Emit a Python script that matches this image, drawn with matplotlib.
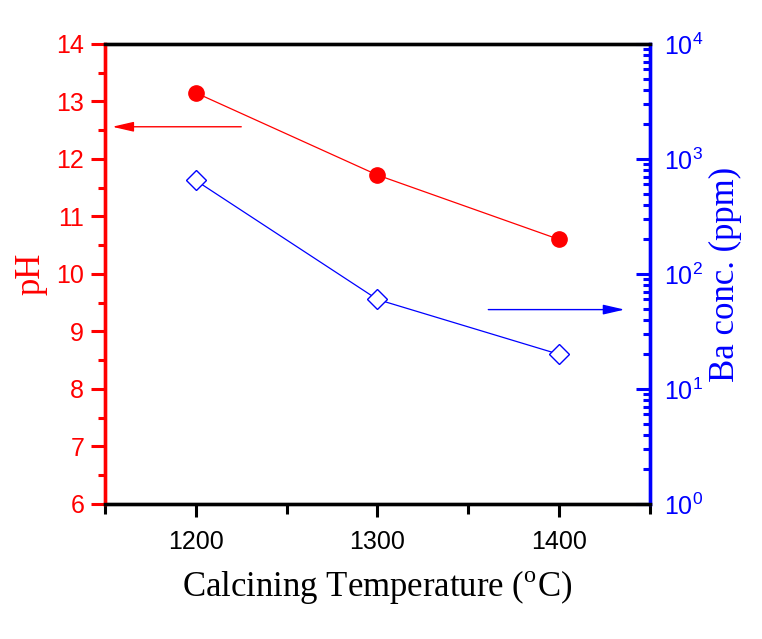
import numpy as np
import matplotlib
matplotlib.use("Agg")
import matplotlib.pyplot as plt
import matplotlib.ticker as ticker

temps = [1200, 1300, 1400]
ph = [13.15, 11.72, 10.6]
ba_ppm = [650, 60, 20]

RED = "#ff0000"
BLUE = "#0000ff"

plt.rcParams.update({
    "font.family": "Liberation Sans",
    "mathtext.fontset": "custom",
    "mathtext.rm": "Liberation Serif",
    "mathtext.sf": "Liberation Sans",
})

fig = plt.figure(figsize=(7.62, 6.39), dpi=100)
ax = fig.add_axes([0.1378, 0.2113, 0.7152, 0.7199])
ax2 = ax.twinx()

# pH (left, red)
ax.plot(temps, ph, "-o", color=RED, lw=0.9, ms=11, mfc=RED, mec=RED, zorder=3)
ax.set_xlim(1150, 1450)
ax.set_ylim(6, 14)
ax.yaxis.set_major_locator(ticker.MultipleLocator(1))
ax.yaxis.set_minor_locator(ticker.MultipleLocator(0.5))
ax.xaxis.set_major_locator(ticker.FixedLocator([1200, 1300, 1400]))
ax.xaxis.set_minor_locator(ticker.FixedLocator([1150, 1250, 1350, 1450]))

# Ba conc. (right, blue, log)
ax2.plot(temps, ba_ppm, "-D", color=BLUE, lw=0.9, ms=10, mfc="white", mec=BLUE, mew=1.0, zorder=3)
ax2.set_yscale("log")
ax2.set_ylim(1, 1e4)
ax2.yaxis.set_major_locator(ticker.LogLocator(base=10, numticks=10))
ax2.yaxis.set_minor_locator(ticker.LogLocator(base=10, subs=np.arange(2, 10), numticks=10))
ax2.yaxis.set_major_formatter(ticker.FuncFormatter(
    lambda v, p: r"$\mathsf{10^{%d}}$" % int(round(np.log10(v)))))
ax2.yaxis.set_minor_formatter(ticker.NullFormatter())

# arrows pointing to the axes
ax.annotate("", xy=(1154, 12.56), xytext=(1225, 12.56),
            arrowprops=dict(arrowstyle="-|>,head_length=1.3,head_width=0.3", color=RED, lw=1.0,
                            shrinkA=0, shrinkB=0))
ax2.annotate("", xy=(1436, 49), xytext=(1361, 49),
             arrowprops=dict(arrowstyle="-|>,head_length=1.3,head_width=0.3", color=BLUE, lw=1.0,
                             shrinkA=0, shrinkB=0))

# spines
for a in (ax, ax2):
    for s in a.spines.values():
        s.set_linewidth(2.4)
ax.spines["left"].set_color(RED)
ax2.spines["left"].set_color(RED)
ax.spines["right"].set_color(BLUE)
ax2.spines["right"].set_color(BLUE)

ax.tick_params(axis="y", which="major", colors=RED, labelsize=18, length=10, width=2.2, direction="out", pad=5)
ax.tick_params(axis="y", which="minor", colors=RED, length=5, width=2.2, direction="out")
ax.tick_params(axis="x", which="major", colors="black", labelsize=18, length=9, width=2.2, direction="out", pad=10)
ax.tick_params(axis="x", which="minor", colors="black", length=7, width=2.2, direction="out")
ax2.tick_params(axis="y", which="major", colors=BLUE, labelsize=18, length=10, width=2.2, direction="in", pad=10)
ax2.tick_params(axis="y", which="minor", colors=BLUE, length=5, width=2.2, direction="in")

ax.set_xlabel(r"Calcining Temperature ($^{\rm o}$C)", fontfamily="Liberation Serif", fontsize=25, labelpad=10)
ax.set_ylabel("pH", fontfamily="Liberation Serif", fontsize=25, color=RED, labelpad=6)
ax2.set_ylabel("Ba conc. (ppm)", fontfamily="Liberation Serif", fontsize=25, color=BLUE, labelpad=4)

fig.savefig("out.png", dpi=100)
